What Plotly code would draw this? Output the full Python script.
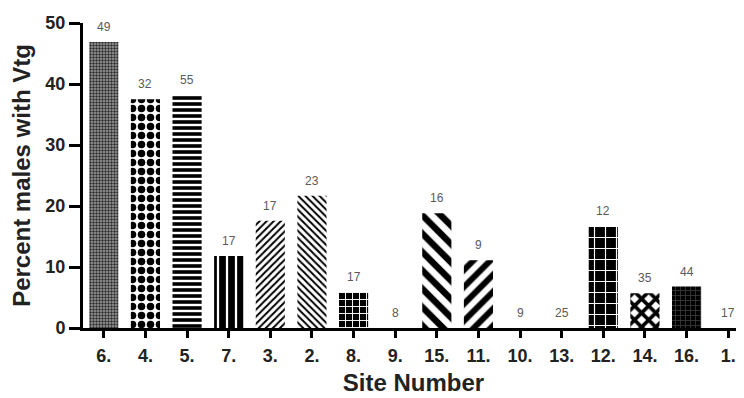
import plotly.graph_objects as go

sites = ["6.", "4.", "5.", "7.", "3.", "2.", "8.", "9.", "15.", "11.", "10.", "13.", "12.", "14.", "16.", "1."]
percent_vtg = [46.9, 37.5, 38.2, 11.8, 17.6, 21.7, 5.9, 0, 18.8, 11.1, 0, 0, 16.7, 5.7, 6.8, 0]
n_males = [49, 32, 55, 17, 17, 23, 17, 8, 16, 9, 9, 25, 12, 35, 44, 17]
y_ticks = [0, 10, 20, 30, 40, 50]

# pattern styling per bar
pat_shape = [".", ".", "-", "|", "/", "\\", "+", "", "\\", "/", "", "", "+", "x", "+", ""]
pat_size = [3, 9, 6, 9, 5, 5, 7, 8, 13, 12, 8, 8, 11, 10, 5, 8]
pat_solid = [0.5, 0.55, 0.6, 0.75, 0.4, 0.4, 0.25, 0.3, 0.5, 0.5, 0.3, 0.3, 0.2, 0.6, 0.3, 0.3]
pat_fg = ["#2e2e2e", "black", "black", "black", "black", "black", "white", "black",
          "black", "black", "black", "black", "white", "black", "#3c3c3c", "black"]
pat_bg = ["#a0a0a0", "white", "white", "white", "white", "white", "black", "white",
          "white", "white", "white", "white", "black", "white", "black", "white"]

FONT = "Liberation Sans, Arial, sans-serif"

fig = go.Figure()
fig.add_trace(go.Bar(
    x=sites, y=percent_vtg, width=0.7,
    marker=dict(
        color="black",
        line=dict(width=0),
        pattern=dict(shape=pat_shape, size=pat_size, solidity=pat_solid,
                     fgcolor=pat_fg, bgcolor=pat_bg, fillmode="replace"),
    ),
    showlegend=False,
))

for i, (v, n) in enumerate(zip(percent_vtg, n_males)):
    fig.add_annotation(x=i, y=v, text=str(n), showarrow=False, yanchor="bottom",
                       yshift=6, font=dict(family=FONT, size=12, color="#5a5a5a"))

fig.update_layout(
    width=736, height=390,
    margin=dict(l=75, r=0, t=15, b=70),
    plot_bgcolor="white", paper_bgcolor="white",
    font=dict(family=FONT, color="black"),
    xaxis=dict(
        type="category", range=[-0.5, 15.38],
        showline=True, linewidth=3, linecolor="black",
        ticks="outside", ticklen=7, tickwidth=3, tickcolor="black",
        ticklabelstandoff=2,
        tickfont=dict(family=FONT, size=18, color="#222222", weight="bold"),
        title=dict(text="<b>Site Number</b>", font=dict(family=FONT, size=24, color="#222222"), standoff=10),
        showgrid=False, zeroline=False,
    ),
    yaxis=dict(
        range=[0, 50], tickvals=y_ticks,
        showline=True, linewidth=3, linecolor="black",
        ticks="outside", ticklen=11, tickwidth=3, tickcolor="black",
        ticklabelstandoff=0,
        tickfont=dict(family=FONT, size=18, color="#222222", weight="bold"),
        title=dict(text="<b>Percent males with Vtg</b>", font=dict(family=FONT, size=24, color="#222222"), standoff=10),
        showgrid=False, zeroline=False,
    ),
)

fig.write_html("out.html")
